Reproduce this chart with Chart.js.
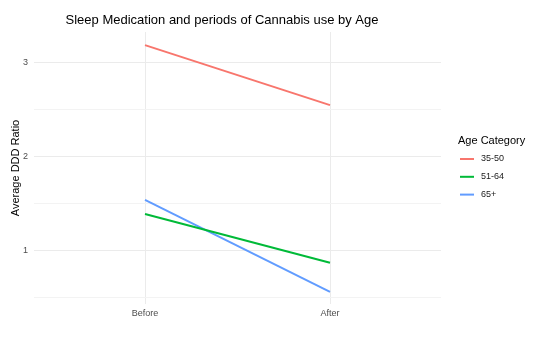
<!DOCTYPE html>
<html>
<head>
<meta charset="utf-8">
<script src="https://cdn.jsdelivr.net/npm/chart.js@4.4.1/dist/chart.umd.min.js"></script>
<style>
  html, body { margin: 0; padding: 0; background: #fff; }
  #wrap { width: 560px; height: 337px; }
</style>
</head>
<body>
<div id="wrap"><canvas id="chart" width="560" height="337"></canvas></div>
<script>
// data
const periods = ['Before', 'After'];
const ageGroups = ['35-50', '51-64', '65+'];
const ratio3550 = [3.19, 2.55];
const ratio5164 = [1.39, 0.87];
const ratio65 = [1.54, 0.56];
const yTicks = [0.5, 1, 1.5, 2, 2.5, 3];
const colors = ['#F8766D', '#00BA38', '#619CFF'];

const FONT = '"Liberation Sans", Arial, sans-serif';
const series = [ratio3550, ratio5164, ratio65];

const datasets = ageGroups.map((name, i) => ({
    label: name,
    data: series[i].map((v, j) => ({ x: j, y: v })),
    borderColor: colors[i],
    backgroundColor: colors[i],
    borderWidth: 2,
    pointRadius: 0,
    tension: 0
}));

// title + legend, drawn like ggplot does
const decor = {
    id: 'decor',
    afterDraw(chart) {
        const ctx = chart.ctx;
        ctx.save();
        ctx.fillStyle = '#000';
        ctx.font = '13px ' + FONT;
        ctx.textAlign = 'center';
        ctx.textBaseline = 'middle';
        ctx.fillText('Sleep Medication and periods of Cannabis use by Age', 222, 20);

        ctx.textAlign = 'left';
        ctx.font = '11px ' + FONT;
        ctx.fillText('Age Category', 458, 141);
        ctx.font = '9px ' + FONT;
        ageGroups.forEach((name, i) => {
            const y = 159 + i * 17.8;
            ctx.strokeStyle = colors[i];
            ctx.lineWidth = 2;
            ctx.beginPath();
            ctx.moveTo(460, y);
            ctx.lineTo(474, y);
            ctx.stroke();
            ctx.fillStyle = '#1a1a1a';
            ctx.fillText(name, 481, y);
        });
        ctx.restore();
    }
};

new Chart(document.getElementById('chart'), {
    type: 'line',
    data: { datasets },
    options: {
        responsive: false,
        animation: false,
        layout: { padding: { top: 32, right: 119, left: 0, bottom: 0 } },
        plugins: { legend: { display: false }, tooltip: { enabled: false } },
        scales: {
            x: {
                type: 'linear',
                min: -0.6,
                max: 1.6,
                afterBuildTicks: axis => { axis.ticks = periods.map((p, i) => ({ value: i })); },
                afterFit: scale => { scale.height = 33; },
                ticks: {
                    callback: v => periods[v],
                    font: { family: FONT, size: 9 },
                    color: '#4d4d4d',
                    padding: 4,
                    maxRotation: 0
                },
                grid: { color: '#ebebeb', lineWidth: 1, drawTicks: false },
                border: { display: false }
            },
            y: {
                min: 0.43,
                max: 3.33,
                afterBuildTicks: axis => { axis.ticks = yTicks.map(v => ({ value: v })); },
                afterFit: scale => { scale.width = 34; },
                ticks: {
                    callback: v => Number.isInteger(v) ? String(v) : '',
                    font: { family: FONT, size: 9 },
                    color: '#4d4d4d',
                    padding: 6
                },
                grid: {
                    color: ctx => Number.isInteger(ctx.tick.value) ? '#ebebeb' : '#f3f3f3',
                    lineWidth: 1,
                    drawTicks: false
                },
                border: { display: false },
                title: {
                    display: true,
                    text: 'Average DDD Ratio',
                    font: { family: FONT, size: 11 },
                    color: '#000',
                    padding: { top: 9, bottom: 0 }
                }
            }
        }
    },
    plugins: [decor]
});
</script>
</body>
</html>
